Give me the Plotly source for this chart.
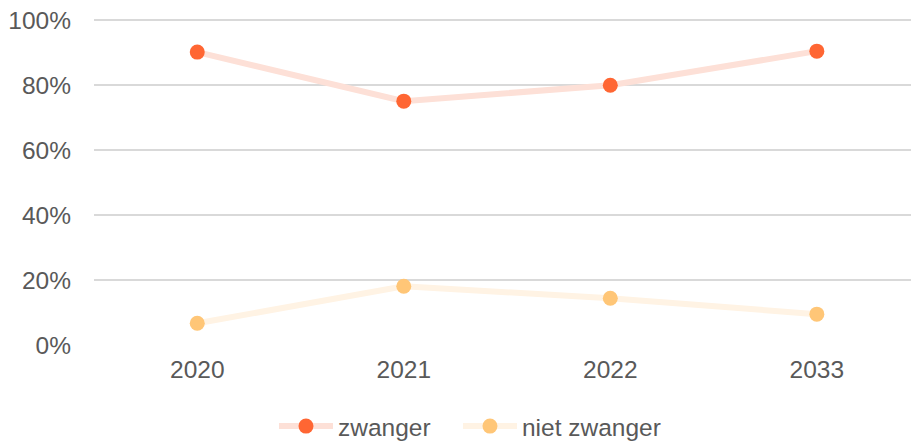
import plotly.graph_objects as go

years = ["2020", "2021", "2022", "2033"]
zwanger = [90.2, 75.1, 80.0, 90.5]
niet_zwanger = [6.7, 18.1, 14.4, 9.5]
y_ticks = [0, 20, 40, 60, 80, 100]
y_tick_labels = ["0%", "20%", "40%", "60%", "80%", "100%"]

FS = 24.5
fig = go.Figure()
fig.add_trace(go.Scatter(
    x=years, y=zwanger, name="zwanger", mode="lines+markers",
    line=dict(color="#FDE0D7", width=6),
    marker=dict(color="#FF6633", size=15),
    legend="legend",
))
fig.add_trace(go.Scatter(
    x=years, y=niet_zwanger, name="niet zwanger", mode="lines+markers",
    line=dict(color="#FFF3E4", width=6),
    marker=dict(color="#FFC677", size=15),
    legend="legend2",
))

leg_common = dict(orientation="h", xanchor="left", y=-0.18, yanchor="top",
                  font=dict(size=FS, color="#595959"), itemwidth=54,
                  bgcolor="rgba(0,0,0,0)")

fig.update_layout(
    width=911, height=441,
    margin=dict(l=94, r=0, t=19, b=96, autoexpand=False),
    paper_bgcolor="white", plot_bgcolor="white",
    font=dict(family="Liberation Sans, Arial, sans-serif", size=FS, color="#595959"),
    showlegend=True,
    legend=dict(x=0.2203, **leg_common),
    legend2=dict(x=0.4455, **leg_common),
    xaxis=dict(type="category", range=[-0.5, 3.456], showgrid=False, zeroline=False,
               showline=False, ticks="", tickfont=dict(size=FS, color="#595959"),
               ticklabelstandoff=7),
    yaxis=dict(range=[0, 100.4], tickvals=y_ticks, ticktext=y_tick_labels,
               showgrid=True, gridcolor="#D9D9D9", gridwidth=1.5, zeroline=False,
               showline=False, ticks="", tickfont=dict(size=FS, color="#595959"),
               ticklabelstandoff=22, ticklabeloverflow="allow"),
)

fig.write_html("out.html", config={"displayModeBar": False},
               post_script="document.body.style.margin='0';")
